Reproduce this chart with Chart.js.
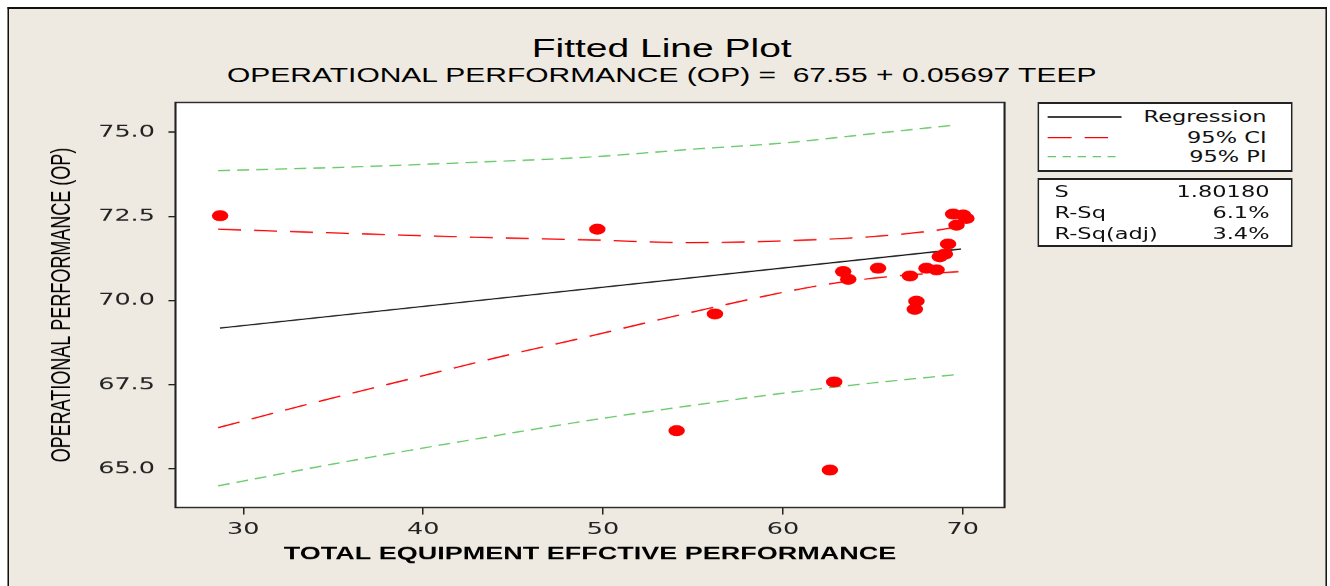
<!DOCTYPE html>
<html>
<head>
<meta charset="utf-8">
<script src="https://cdn.jsdelivr.net/npm/chart.js@4.4.1/dist/chart.umd.min.js"></script>
<style>
  html, body { margin: 0; padding: 0; background: #fff; overflow: hidden; }
  /* the original picture is stretched 1.5x sideways, so the whole stage is too */
  #stage { position: absolute; left: 0; top: 0; width: 887px; height: 586px; transform: scaleX(1.4994); transform-origin: 0 0; }
  #frame { position: absolute; left: 5.3px; top: 7px; width: 878px; height: 640px; background: #EEEAE1;
           border-top: 2px solid #111; border-left: 1.4px solid #111; border-right: 1.4px solid #111; }
  canvas { position: absolute; left: 0; top: 0; }
  .t { position: absolute; white-space: nowrap; font-family: "Liberation Sans", Arial, sans-serif; color: #000; transform: translate(-50%, -50%); }
  .box { position: absolute; left: 692px; width: 170px; background: #fff; box-sizing: border-box; border: solid #222; border-width: 2px 1.4px; }
  .row { position: absolute; white-space: nowrap; font: 15px "DejaVu Sans", sans-serif; color: #111; transform: translateY(-50%); }
</style>
</head>
<body>
<div id="stage">
  <div id="frame"></div>
  <div class="t" style="left:441.3px; top:48px; font-size:26px;">Fitted Line Plot</div>
  <div class="t" style="left:441.3px; top:74.5px; font-size:20px;">OPERATIONAL PERFORMANCE (OP) =&nbsp; 67.55 + 0.05697 TEEP</div>
  <canvas id="chart" width="887" height="586"></canvas>

  <div class="box" style="top:102px; height:70px;"></div>
  <svg style="position:absolute; left:0; top:0; overflow:visible;" width="887" height="586">
    <line x1="698.7" y1="117" x2="748" y2="117" stroke="#000" stroke-width="1.3"/>
    <line x1="698.7" y1="137.7" x2="739" y2="137.7" stroke="#FF0000" stroke-width="1.3" stroke-dasharray="16 8.7"/>
    <line x1="698.7" y1="156.7" x2="744" y2="156.7" stroke="#66C866" stroke-width="1.3" stroke-dasharray="5.6 4.4"/>
  </svg>
  <div class="row" style="right:42.3px; top:117px;">Regression</div>
  <div class="row" style="right:42.3px; top:137.7px;">95% CI</div>
  <div class="row" style="right:42.3px; top:156.7px;">95% PI</div>

  <div class="box" style="top:178px; height:69px;"></div>
  <div class="row" style="left:703.3px; top:191.7px;">S</div>
  <div class="row" style="left:703.3px; top:213.3px;">R-Sq</div>
  <div class="row" style="left:703.3px; top:233.7px;">R-Sq(adj)</div>
  <div class="row" style="right:40.3px; top:191.7px;">1.80180</div>
  <div class="row" style="right:40.3px; top:213.3px;">6.1%</div>
  <div class="row" style="right:40.3px; top:233.7px;">3.4%</div>
</div>

<script>
// observations
const teep = [28.71, 49.68, 56.22, 54.09, 62.85, 62.61, 67.42, 67.33, 63.35, 63.63, 65.29,
              67.06, 67.98, 68.54, 68.72, 69.0, 69.18, 69.46, 70.02, 69.65, 70.2];
const op   = [72.52, 72.12, 69.60, 66.13, 67.58, 64.96, 69.98, 69.74, 70.86, 70.63, 70.96,
              70.73, 70.96, 70.91, 71.30, 71.38, 71.68, 72.57, 72.54, 72.24, 72.44];

// fitted line and bands
const fitTeep = [28.7, 69.9];
const fitOp   = [69.18, 71.53];
const ciUpperTeep = [28.6, 35.5, 42.9, 49.4, 54.8, 60.4, 65.0, 68.3, 69.9];
const ciUpperOp   = [72.12, 72.0, 71.88, 71.80, 71.72, 71.78, 71.90, 72.07, 72.2];
const ciLowerTeep = [28.6, 33.4, 39.2, 44.7, 48.8, 54.5, 62.2, 65.9, 69.8];
const ciLowerOp   = [66.22, 66.89, 67.66, 68.38, 68.88, 69.60, 70.46, 70.71, 70.86];
const piUpperTeep = [28.6, 35.5, 42.9, 49.4, 54.8, 60.4, 65.0, 69.65];
const piUpperOp   = [73.86, 73.96, 74.11, 74.27, 74.49, 74.70, 74.96, 75.22];
const piLowerTeep = [28.6, 35.5, 42.9, 49.4, 54.8, 60.4, 65.0, 69.7];
const piLowerOp   = [64.49, 65.19, 65.88, 66.45, 66.87, 67.27, 67.55, 67.80];

const xTicks = [30, 40, 50, 60, 70];
const yTicks = [65, 67.5, 70, 72.5, 75];

const pts = (xs, ys) => xs.map((x, i) => ({ x: x, y: ys[i] }));

const band = (label, xs, ys, color, dash) => ({
  label: label,
  data: pts(xs, ys),
  showLine: true,
  borderColor: color,
  borderWidth: 1.3,
  borderDash: dash,
  pointRadius: 0,
  pointHoverRadius: 0,
  fill: false,
  cubicInterpolationMode: "monotone",
});

const plotFrame = {
  id: "plotFrame",
  beforeDraw(chart) {
    const { ctx, chartArea: a } = chart;
    ctx.save();
    ctx.fillStyle = "#fff";
    ctx.fillRect(a.left, a.top, a.right - a.left, a.bottom - a.top);
    ctx.restore();
  },
  afterDraw(chart) {
    const { ctx, chartArea: a } = chart;
    ctx.save();
    ctx.strokeStyle = "#222";
    ctx.lineWidth = 1.4;
    ctx.strokeRect(a.left, a.top, a.right - a.left, a.bottom - a.top);
    ctx.restore();
  },
};

new Chart(document.getElementById("chart").getContext("2d"), {
  type: "scatter",
  data: {
    datasets: [
      {
        label: "OP",
        data: pts(teep, op),
        backgroundColor: "#FF0000",
        borderWidth: 0,
        pointRadius: 5.5,
        pointHoverRadius: 5.5,
      },
      band("Regression", fitTeep, fitOp, "#111", []),
      band("95% CI upper", ciUpperTeep, ciUpperOp, "#FF0000", [15.3, 8.7]),
      band("95% CI lower", ciLowerTeep, ciLowerOp, "#FF0000", [15.3, 8.7]),
      band("95% PI upper", piUpperTeep, piUpperOp, "#66C866", [8, 4.7]),
      band("95% PI lower", piLowerTeep, piLowerOp, "#66C866", [8, 4.7]),
    ],
  },
  options: {
    responsive: false,
    devicePixelRatio: 1.5,
    animation: false,
    layout: { padding: { left: 5, top: 102.5, right: 217.3, bottom: 0 } },
    plugins: {
      legend: { display: false },
      tooltip: { enabled: false },
    },
    scales: {
      x: {
        type: "linear",
        min: 26.23,
        max: 72.32,
        afterFit(s) { s.height = 78.5; },
        afterBuildTicks(s) { s.ticks = xTicks.map((v) => ({ value: v })); },
        border: { display: false },
        grid: { drawOnChartArea: false, drawTicks: true, tickLength: 7, color: "#222", lineWidth: 1 },
        ticks: {
          color: "#222",
          padding: 5,
          maxRotation: 0,
          autoSkip: false,
          font: { family: "DejaVu Sans", size: 17 },
        },
        title: {
          display: true,
          text: "TOTAL EQUIPMENT EFFCTIVE PERFORMANCE",
          color: "#000",
          font: { family: "Liberation Sans", size: 18, weight: "bold" },
          padding: { top: 0, bottom: 21 },
        },
      },
      y: {
        type: "linear",
        min: 63.847,
        max: 75.886,
        afterFit(s) { s.width = 112; },
        afterBuildTicks(s) { s.ticks = yTicks.map((v) => ({ value: v })); },
        border: { display: false },
        grid: { drawOnChartArea: false, drawTicks: true, tickLength: 4.7, color: "#222", lineWidth: 1.4 },
        ticks: {
          color: "#222",
          padding: 9,
          autoSkip: false,
          font: { family: "DejaVu Sans", size: 17 },
          callback: (v) => Number(v).toFixed(1),
        },
        title: {
          display: true,
          text: "OPERATIONAL PERFORMANCE (OP)",
          color: "#000",
          font: { family: "Liberation Sans", size: 18 },
          padding: { top: 26, bottom: 0 },
        },
      },
    },
  },
  plugins: [plotFrame],
});
</script>
</body>
</html>
